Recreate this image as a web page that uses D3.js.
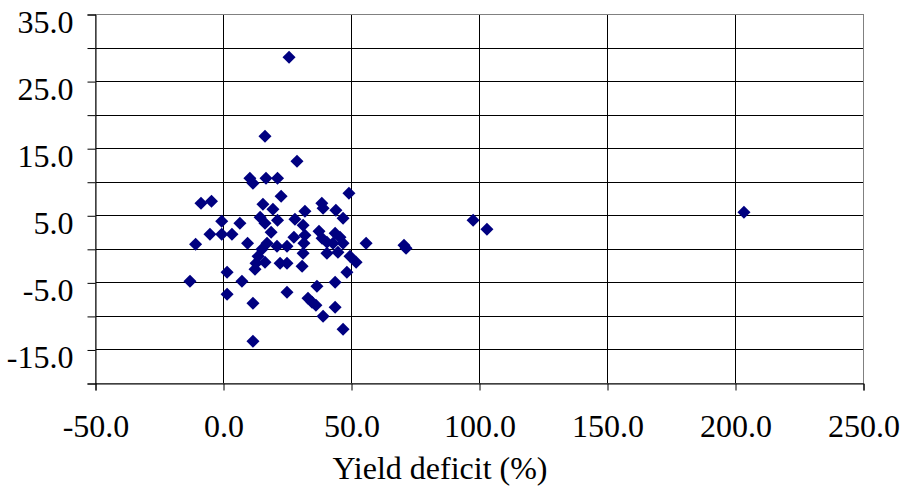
<!DOCTYPE html>
<html>
<head>
<meta charset="utf-8">
<script src="https://cdn.jsdelivr.net/npm/d3@7"></script>
<style>
  html, body { margin: 0; padding: 0; background: #fff; }
  svg { display: block; font-family: "Liberation Serif", "Times New Roman", serif; }
</style>
</head>
<body>
<svg id="chart" width="906" height="493"></svg>
<script>
// Yield deficit (%) values
const xValues = [
  -12.9, -10.7, -8.6, -4.5, -5.1, -0.5, -0.5, 3.5, 6.6, 9.6,
  1.6, 7.4, 1.6, 11.7, 11.7, 10.5, 11.7, 16.8, 21.3, 16.4,
  25.8, 28.9, 22.7, 15.6, 19.5, 14.5, 16.4, 18.8, 17.2, 15.2,
  13.7, 12.9, 16.4, 12.5, 21.1, 25.0, 22.3, 25.0, 27.7, 28.1,
  21.3, 31.3, 32.0, 32.0, 31.6, 31.3, 30.9, 38.6, 39.1, 44.1,
  46.9, 49.2, 37.5, 38.7, 40.6, 43.8, 45.7, 46.9, 43.0, 55.9,
  40.6, 44.9, 49.6, 52.0, 48.4, 36.7, 43.8, 25.0, 33.2, 34.8,
  36.3, 43.8, 39.1, 46.9, 70.7, 71.5, 97.7, 103.1, 203.5
];
// Y values
const yValues = [
  -4.84, 0.67, 6.78, 7.08, 2.16, 2.16, 4.10, 2.16, 3.80, 0.82,
  -3.50, -4.84, -6.78, -8.12, -13.79, 10.51, 9.76, 10.51, 10.51, 16.77,
  28.54, 13.04, 7.83, 6.63, 5.89, 4.70, 3.80, 2.46, 0.82, -0.07,
  -1.12, -2.16, -2.01, -3.06, 0.37, 0.37, -2.16, -2.16, 1.71, 4.40,
  4.25, 3.50, 5.59, 2.01, 0.82, -0.67, -2.61, 6.78, 6.04, 5.74,
  4.55, 8.27, 2.61, 1.57, 0.97, 2.31, 1.71, 0.82, 0.82, 0.82,
  -0.67, -0.52, -1.12, -2.01, -3.50, -5.59, -4.99, -6.48, -7.38, -7.97,
  -8.42, -8.72, -10.06, -12.0, 0.52, 0.07, 4.25, 2.91, 5.44
];
const xTickValues = [-50, 0, 50, 100, 150, 200, 250];
const yGridValues = [-20, -15, -10, -5, 0, 5, 10, 15, 20, 25, 30, 35];
const yLabelValues = [35, 25, 15, 5, -5, -15];
const xTitle = "Yield deficit (%)";

const svg = d3.select("#chart");
const mLeft = 95, mRight = 863, mTop = 14, mBottom = 383;
const fmt = d => d.toFixed(1);

const x = d3.scaleLinear().domain([-50, 250]).range([mLeft, mRight]);
const y = d3.scaleLinear().domain([-20, 35]).range([mBottom, mTop]);

// Horizontal gridlines
svg.append("g").selectAll("line").data(yGridValues).join("line")
  .attr("x1", mLeft).attr("x2", mRight)
  .attr("y1", d => Math.round(y(d)) + 0.5).attr("y2", d => Math.round(y(d)) + 0.5)
  .attr("stroke", "#000").attr("stroke-width", 1);

// Vertical gridlines
svg.append("g").selectAll("line").data(xTickValues).join("line")
  .attr("y1", mTop).attr("y2", mBottom)
  .attr("x1", d => Math.round(x(d)) + 0.5).attr("x2", d => Math.round(x(d)) + 0.5)
  .attr("stroke", "#000").attr("stroke-width", 1);

// Plot border
svg.append("rect")
  .attr("x", mLeft + 0.5).attr("y", mTop + 0.5)
  .attr("width", mRight - mLeft).attr("height", mBottom - mTop)
  .attr("fill", "none").attr("stroke", "#808080").attr("stroke-width", 1);

// Y axis
const yAxis = d3.axisLeft(y).tickValues(yGridValues).tickSize(8).tickPadding(14)
  .tickFormat(d => yLabelValues.includes(d) ? fmt(d) : "");
const gy = svg.append("g").attr("transform", `translate(${mLeft + 0.5},0.5)`).call(yAxis);
gy.select(".domain").attr("stroke", "#000");
gy.selectAll(".tick line").attr("stroke", "#000");
gy.selectAll(".tick text")
  .attr("font-family", "Liberation Serif, Times New Roman, serif")
  .attr("font-size", 32).attr("fill", "#000").attr("dy", "0.55em");

// X axis
const xAxis = d3.axisBottom(x).tickValues(xTickValues).tickSize(7).tickPadding(24)
  .tickFormat(fmt);
const gx = svg.append("g").attr("transform", `translate(0.5,${mBottom + 0.5})`).call(xAxis);
gx.select(".domain").attr("stroke", "#000");
gx.selectAll(".tick line").attr("stroke", "#000");
gx.selectAll(".tick text")
  .attr("font-family", "Liberation Serif, Times New Roman, serif")
  .attr("font-size", 32).attr("fill", "#000");

// X title
svg.append("text")
  .attr("x", 440).attr("y", 479)
  .attr("text-anchor", "middle")
  .attr("font-size", 32).attr("fill", "#000")
  .text(xTitle);

// Points
const diamond = d3.symbol().type(d3.symbolSquare).size(85);
svg.append("g").selectAll("path").data(xValues.map((v, i) => [v, yValues[i]])).join("path")
  .attr("d", diamond)
  .attr("transform", d => `translate(${x(d[0])},${y(d[1])}) rotate(45)`)
  .attr("fill", "#000080");
</script>
</body>
</html>
